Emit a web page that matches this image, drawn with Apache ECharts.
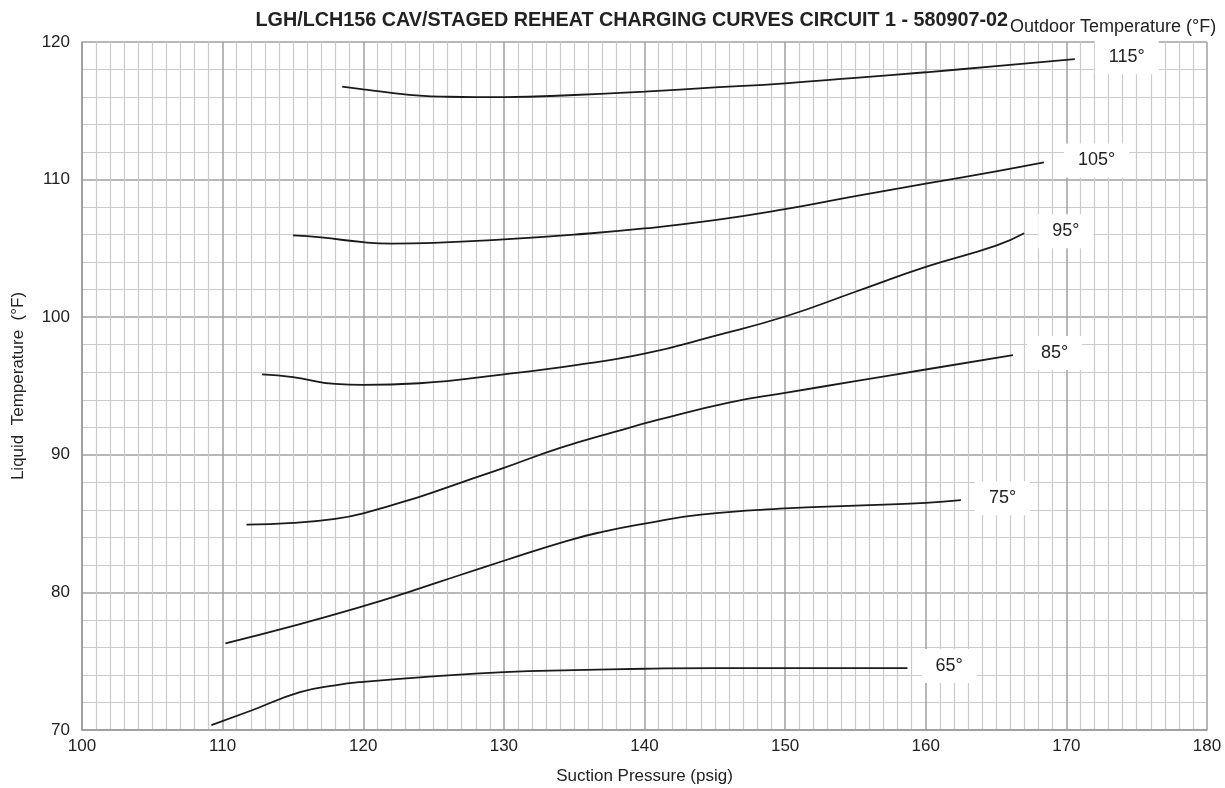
<!DOCTYPE html>
<html>
<head>
<meta charset="utf-8">
<title>Charging curves</title>
<script src="https://cdn.jsdelivr.net/npm/echarts@6/dist/echarts.min.js"></script>
<style>
    html, body { margin: 0; padding: 0; background: #fff; }
    #main { width: 1225px; height: 788px; }
</style>
</head>
<body>
<div id="main"></div>
<script>
// 数据：每条曲线 [吸气压力, 液体温度]
let curveNames = ['115°', '105°', '95°', '85°', '75°', '65°'];
let curve115 = [[118.5, 116.75], [120, 116.55], [122, 116.3], [124, 116.1], [126, 116.02], [128, 116.0], [130, 116.0], [135, 116.15], [140, 116.4], [145, 116.7], [150, 117.0], [155, 117.4], [160, 117.8], [165, 118.25], [170.6, 118.75]];
let curve105 = [[115, 105.95], [117, 105.8], [120, 105.45], [122, 105.35], [125, 105.4], [130, 105.65], [135, 106.0], [140, 106.45], [145, 107.05], [150, 107.85], [155, 108.8], [160, 109.7], [165, 110.6], [168.4, 111.25]];
let curve95 = [[112.8, 95.85], [115, 95.65], [118, 95.15], [120, 95.08], [124, 95.2], [130, 95.85], [135, 96.5], [140, 97.35], [145, 98.65], [150, 100.05], [155, 101.85], [160, 103.65], [165, 105.2], [167, 106.1]];
let curve85 = [[111.7, 84.93], [115, 85.05], [118, 85.35], [120, 85.75], [124, 86.95], [127, 88.0], [130, 89.05], [134, 90.5], [138, 91.7], [141, 92.55], [146, 93.8], [150, 94.5], [155, 95.35], [160, 96.2], [166.2, 97.25]];
let curve75 = [[110.2, 76.3], [115.5, 77.7], [120, 79.0], [123, 79.95], [127, 81.3], [130, 82.3], [134.5, 83.75], [137, 84.4], [140, 85.0], [144, 85.65], [150, 86.1], [155, 86.3], [160, 86.5], [162.5, 86.7]];
let curve65 = [[109.2, 70.35], [112, 71.4], [115.5, 72.75], [118, 73.25], [120, 73.5], [125, 73.9], [130, 74.2], [135, 74.35], [140, 74.45], [145, 74.5], [150, 74.5], [158.7, 74.5]];
let curves = [curve115, curve105, curve95, curve85, curve75, curve65];

(function() {
    let chartDom = document.getElementById('main');
    let myChart = echarts.init(chartDom);

    let series = curves.map(function(c, i) {
        let name = curveNames[i];
        return {
            name: name,
            type: 'line',
            data: c,
            smooth: 0.5,
            symbol: 'none',
            lineStyle: { color: '#1a1a1a', width: 1.8 },
            endLabel: {
                show: true,
                formatter: name,
                distance: name.length > 3 ? 20 : 14,
                offset: [0, -2],
                color: '#222',
                fontSize: 18,
                backgroundColor: '#fff',
                padding: [8, 14]
            }
        };
    });

    let option = {
        animation: false,
        textStyle: { fontFamily: 'Liberation Sans, Arial, sans-serif' },
        title: [{
                text: 'LGH/LCH156 CAV/STAGED REHEAT CHARGING CURVES CIRCUIT 1 - 580907-02',
                right: 217,
                top: 11,
                padding: 0,
                textStyle: { fontSize: 19.75, fontWeight: 'bold', color: '#222' }
            },
            {
                text: 'Outdoor Temperature (°F)',
                left: 1010,
                top: 18,
                padding: 0,
                textStyle: { fontSize: 18, fontWeight: 'normal', color: '#222' }
            }
        ],
        grid: {
            left: 82,
            right: 18,
            top: 42,
            bottom: 58,
            outerBoundsMode: 'none'
        },
        xAxis: {
            type: 'value',
            min: 100,
            max: 180,
            interval: 10,
            name: 'Suction Pressure (psig)',
            nameLocation: 'middle',
            nameGap: 38,
            nameTextStyle: { fontSize: 17, color: '#222' },
            axisLine: { lineStyle: { color: '#999', width: 1.5 } },
            axisTick: { show: false },
            axisLabel: { fontSize: 17, color: '#222', margin: 8 },
            splitLine: { show: true, lineStyle: { color: '#a0a0a0', width: 1.5 } },
            minorTick: { show: false, splitNumber: 10 },
            minorSplitLine: { show: true, lineStyle: { color: '#cbcbcb', width: 1.2 } }
        },
        yAxis: {
            type: 'value',
            min: 70,
            max: 120,
            interval: 10,
            name: 'Liquid  Temperature  (°F)',
            nameLocation: 'middle',
            nameGap: 55,
            nameTextStyle: { fontSize: 17, color: '#222' },
            axisLine: { show: true, lineStyle: { color: '#999', width: 1.5 } },
            axisTick: { show: false },
            axisLabel: { fontSize: 17, color: '#222', margin: 12 },
            splitLine: { show: true, lineStyle: { color: '#a0a0a0', width: 1.5 } },
            minorTick: { show: false, splitNumber: 5 },
            minorSplitLine: { show: true, lineStyle: { color: '#cbcbcb', width: 1.2 } }
        },
        series: series
    };
    myChart.setOption(option);
    window.addEventListener('resize', function() {
        myChart.resize();
    });
})();
</script>
</body>
</html>
